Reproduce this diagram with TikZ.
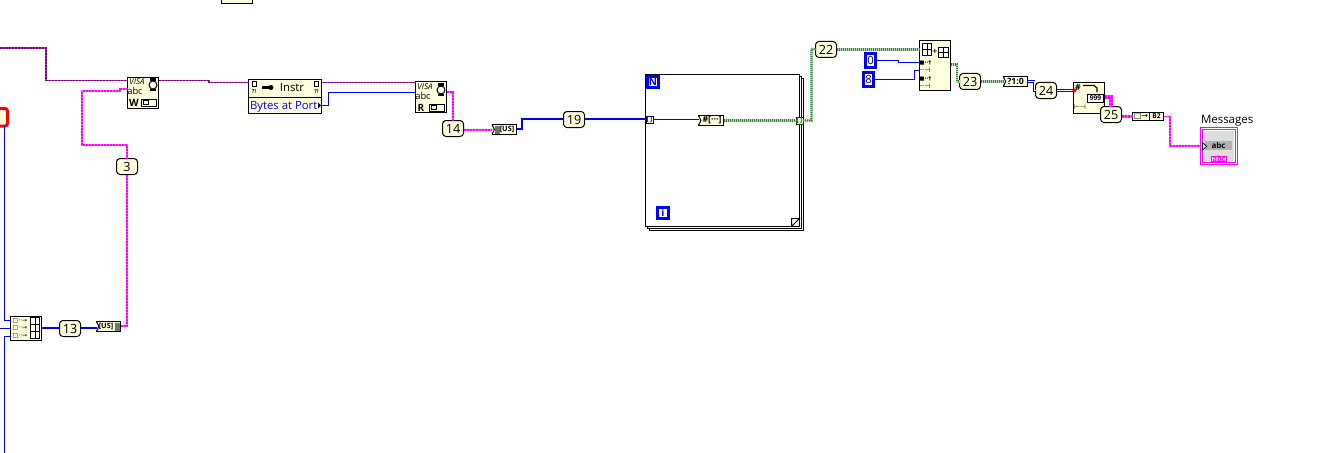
\documentclass[tikz,border=0pt]{standalone}
\usepackage{fontspec}
\setmainfont{Open Sans}
\newfontfamily\symf{DejaVu Sans}
\definecolor{cream}{HTML}{FFFFDD}
\definecolor{lvblue}{HTML}{0000FF}
\definecolor{lvpink}{HTML}{FF00FF}
\definecolor{lvpurple}{HTML}{800080}
\definecolor{lvgreen}{HTML}{006600}
\tikzset{
  sz/.style 2 args={minimum width=#1*0.75pt,minimum height=#2*0.75pt,inner sep=0pt,outer sep=0pt},
  block/.style={draw=black,fill=cream,line width=0.75pt,sharp corners},
  num/.style={draw=black,fill=cream,line width=0.75pt,rounded corners=2.6pt,sz={21}{16},font=\fontsize{9.5}{9.5}\selectfont},
  cst/.style={draw=lvblue,fill=cream,line width=2.1pt,font=\fontsize{8.5}{8.5}\selectfont,text=lvblue!45!black},
  iter/.style={cst,sz={11.5}{11.5},font=\fontsize{7.5}{7.5}\selectfont\bfseries,text=lvblue},
  conv/.style={draw=black,fill=cream,line width=0.75pt},
  tiny/.style={inner sep=0pt,outer sep=0pt,font=\fontsize{#1}{#1}\selectfont},
  tiny/.default=6,
  loopf/.style={draw=black,fill=white,line width=0.75pt,sz={154}{152}},
  grd/.style={draw=black,line width=0.5pt,fill=white},
  bluethin/.style={draw=lvblue,line width=0.75pt,sharp corners},
  bluethick/.style={draw=lvblue,line width=1.6pt},
  bluedouble/.style={draw=lvblue,line width=0.7pt,double=white,double distance=0.7pt},
  pinkw/.style={preaction={draw=lvpink!65,line width=1.4pt,solid},draw=lvpink,line width=1.4pt,dash pattern=on 1.5pt off 0.75pt},
  pinkthick/.style={preaction={draw=lvpink!60,line width=2.6pt,solid},draw=lvpink,line width=2.6pt,dash pattern=on 1.5pt off 0.75pt},
  purplew/.style={preaction={draw=lvpurple!75,line width=1.4pt,solid},draw=lvpurple,line width=1.4pt,dash pattern=on 1.5pt off 0.75pt},
  greenw/.style={preaction={draw=lvgreen!25,line width=1.7pt,solid},draw=lvgreen!80,line width=1.7pt,dash pattern=on 0.75pt off 0.75pt},
}
\begin{document}
\begin{tikzpicture}[x=0.75pt,y=-0.75pt]
\useasboundingbox (0,0) rectangle (1327,453);

% ---- loop structure
\node[loopf] (loopc) at (726.5,154.5) {};
\node[loopf] (loopb) at (724.5,152.5) {};
\node[loopf] (loop) at (722.5,150.5) {};
\node[iter] (nbox) at (653,82) {N};
\node[iter] (ibox) at (663,213) {i};
\draw[line width=0.75pt,fill=white] (791.5,226.5) -- (799.5,218.5) -- (791.5,218.5) -- cycle;

% ---- nodes
\node[block,sz={31}{5}] (top) at (236.5,1.5) {};
\node[draw=red,line width=2.25pt,fill=cream,rounded corners=2pt,sz={15}{17.7}] (redbox) at (0,117.2) {};
\node[block,sz={31}{31}] (vw) at (143,93) {};
\node[block,sz={73}{34}] (instr) at (285,96.5) {};
\draw[line width=0.75pt] (instr.west |- 0,97.5) -- (instr.east |- 0,97.5);
\node[block,sz={31}{31}] (vr) at (431,97) {};
\node[num] (n3) at (127,166.5) {3};
\node[num] (n14) at (453,128.5) {14};
\node[conv,sz={24}{10}] (us14) at (504,129.5) {};
\node[num] (n19) at (574,119.5) {19};
\node[conv,sz={7}{7}] (tl) at (649.5,119.5) {};
\node[conv,sz={7}{7},draw=lvgreen!60!black] (tr) at (799.5,120.5) {};
\node[conv,sz={25}{10}] (cnv) at (711,120.5) {};
\node[num] (n22) at (826,49.5) {22};
\node[cst,sz={9.4}{14.6}] (c0) at (870.5,60.5) {0};
\node[cst,sz={9.4}{14.6}] (c8) at (868.5,79.5) {8};
\node[block,sz={31}{50}] (sub) at (935,65.5) {};
\node[num] (n23) at (970,81.5) {23};
\node[conv,sz={24.5}{10},font=\fontsize{6.5}{6.5}\selectfont\bfseries] (sel) at (1015.5,81.5) {?1:0};
\node[num] (n24) at (1046,90.5) {24};
\node[block,sz={31}{31}] (build) at (1089,98) {};
\node[num] (n25) at (1111,114.5) {25};
\node[conv,sz={31}{8}] (strc) at (1148,116.5) {};
\node[draw=lvpink,line width=0.8pt,fill=white,sz={37}{37}] (msg) at (1219,146) {};
\node[block,sz={31}{24}] (arr) at (26,328) {};
\node[num] (n13) at (70,328.5) {13};
\node[conv,sz={24}{10}] (us13) at (108.5,326.5) {};
\node[tiny=8.6,anchor=west] (msglab) at (1201,120.5) {Messages};
\coordinate (west0) at (0,48);
\coordinate (westb) at (0,328.5);
\coordinate (botb) at (4.5,453);

% ---- notched converter ends
\foreach \n in {us14,cnv,sel,us13}{
  \fill[white] ([xshift=-0.6pt]\n.north west) -- ([xshift=1.8pt]\n.west) -- ([xshift=-0.6pt]\n.south west) -- cycle;
  \draw[line width=0.75pt] (\n.north west) -- ([xshift=1.8pt]\n.west) -- (\n.south west);
}

% ---- wires
\draw[purplew] (west0) -- (46,48) -- (46,80.5) -- (vw.west |- 0,80.5);
\draw[purplew] (vw.east |- 0,80.5) -- (209,80.5) -- (209,82.5) -- (instr.west |- 0,82.5);
\draw[purplew] (instr.east |- 0,82.5) -- (vr.west |- 0,82.5);
\draw[pinkw] (vw.west |- 0,89) -- (120,89) -- (120,91) -- (82,91) -- (82,145) -- (127,145) -- (n3.north);
\draw[pinkw] (n3.south) -- (127,326) -- (us13.east |- 0,326);
\draw[pinkw] (vr.east |- 0,92) -- (453,92) -- (n14.north);
\draw[pinkw] (n14.east |- 0,130) -- (us14.west |- 0,130);
\draw[bluethin] (instr.east |- 0,105.5) -- (328.5,105.5) -- (328.5,92.5) -- (vr.west |- 0,92.5);
\draw[bluethick] (us14.east |- 0,129) -- (522,129) -- (522,119) -- (n19.west |- 0,119);
\draw[bluethick] (n19.east |- 0,119) -- (tl.west |- 0,119);
\draw[bluethin] (tl.east) -- (cnv.west |- tl);
\draw[greenw] (cnv.east) -- (tr.west);
\draw[greenw] (tr.east) -- (811.5,120.5) -- (811.5,49) -- (n22.west);
\draw[greenw] (n22.east) -- (sub.west |- n22);
\draw[bluethin] (c0.east) -- (898.5,60.5) -- (898.5,62.5) -- (sub.west |- 0,62.5);
\draw[bluethin] (c8.east) -- (914.5,79.5) -- (914.5,70.5) -- (sub.west |- 0,70.5);
\draw[greenw] (sub.east |- 0,64.5) -- (957,64.5) -- (957,81.5) -- (n23.west);
\draw[greenw] (n23.east) -- (sel.west);
\draw[bluedouble] (sel.east) -- (1034,81.5) -- (1034,90.5) -- (n24.west);
\draw[bluedouble] (n24.east) -- (build.west |- n24);
\draw[pinkthick] (build.east |- 0,97) -- (1111,97) -- (n25.north);
\draw[pinkthick] (n25.east |- strc) -- (strc.west);
\draw[pinkw] (strc.east) -- (1170,116.5) -- (1170,146) -- (msg.west);
\draw[bluethin] (redbox.south -| 4.5,0) -- (4.5,320.5) -- (arr.west |- 0,320.5);
\draw[bluethin] (westb) -- (arr.west |- westb);
\draw[bluethin] (arr.west |- 0,336.5) -- (4.5,336.5) -- (botb);
\draw[bluethick] (arr.east) -- (n13.west |- arr);
\draw[bluethick] (n13.east |- arr) -- (us13.west |- arr);

% ---- VISA write
\node[tiny=6] (vwv) at (137,82) {\itshape VISA};
\node[tiny=7] (vwa) at (135,91) {abc};
\node[tiny=7.5] (vwl) at (134,102.5) {\bfseries W};
\node[draw=black,line width=0.75pt,sz={15}{7}] (vwp) at (148.5,102.5) {};
\node[draw=black,line width=0.5pt,fill=white,sz={5}{4}] (vwq) at (146,102.5) {};
\node[circle,draw=black,line width=0.75pt,fill=white,sz={8}{8}] (vwc) at (153,85) {};
\node[fill=black,sz={6}{3}] (vwd) at (153,79.5) {};
\node[fill=black,sz={6}{2}] (vwe) at (153,90.5) {};
% ---- Instr
\node[tiny=8.5] (ins) at (292,88) {Instr};
\node[tiny=8.5,text=lvblue,anchor=west] (bap) at (250,106.5) {Bytes at Port};
\node[draw=black,fill=white,line width=0.6pt,sz={4}{5}] (ic1) at (254,84) {};
\node[draw=black,fill=white,line width=0.6pt,sz={4}{5}] (ic2) at (316.5,84) {};
\node[tiny=4] (iq1) at (254,92) {\bfseries ?!};
\node[tiny=4] (iq2) at (316.5,92) {\bfseries ?!};
\node[fill=black,sz={9}{2.5}] (ic3) at (266,87.5) {};
\node[circle,fill=black,sz={5}{5}] (ic5) at (271,87.5) {};
\fill[black] (318,102.5) -- (321,105.5) -- (318,108.5) -- cycle;
% ---- VISA read
\node[tiny=6] (vrv) at (425,87) {\itshape VISA};
\node[tiny=7] (vra) at (423,96) {abc};
\node[tiny=7.5] (vrl) at (421,107.5) {\bfseries R};
\node[draw=black,line width=0.75pt,sz={15}{7}] (vrp) at (436.5,107.5) {};
\node[draw=black,line width=0.5pt,fill=white,sz={5}{4}] (vrq) at (434,107.5) {};
\node[circle,draw=black,line width=0.75pt,fill=white,sz={8}{8}] (vrc) at (441,90) {};
\node[fill=black,sz={6}{3}] (vrd) at (441,84.5) {};
\node[fill=black,sz={6}{2}] (vre) at (441,95) {};
% ---- converters
\node[tiny=5.5] (ust1) at (507,129.5) {\bfseries[US]};
\node[fill=black!55,sz={5}{8}] (ush1) at (497,129.5) {};
\node[tiny=6.5] (convt) at (712,120.3) {\bfseries\#[···]};
\node[tiny=5.5] (ust2) at (106,326.5) {\bfseries[US]};
\node[fill=black!55,sz={5}{8}] (ush2) at (117.5,326.5) {};
% ---- tunnels
\node[tiny=5,text=lvblue] (tlt) at (649.5,119.3) {\bfseries[\,]};
\node[tiny=5,text=lvgreen] (trt) at (799.5,120.3) {\bfseries[\,]};
% ---- array subset
\draw[grd] (922.5,43.5) rectangle (931.5,55.5);
\draw[line width=0.5pt] (927,43.5) -- (927,55.5) (922.5,49.5) -- (931.5,49.5);
\draw[grd] (938.5,47.5) rectangle (948.5,57.5);
\draw[line width=0.5pt] (943.5,47.5) -- (943.5,57.5) (938.5,52.5) -- (948.5,52.5);
\node[tiny=5] (splus) at (935,51) {\symf\bfseries +};
\node[tiny=4] (sc) at (925.5,63) {\symf\bfseries ■··†};
\node[tiny=5] (sd) at (924.5,70.5) {\symf ⊢⊣};
\node[tiny=4] (se) at (925.5,79) {\symf\bfseries ■··†};
\node[tiny=5] (sf) at (924.5,86.5) {\symf ⊢⊣};
% ---- build string
\node[tiny=6.5] (bt1) at (1078,87.5) {\bfseries\#};
\draw[line width=0.9pt] (1083,85.5) -- (1094,85.5) -- (1097,88) -- (1097,92);
\node[draw=black,fill=white,line width=0.6pt,sz={16}{8},tiny=5] (bt2) at (1095.5,98.5) {\bfseries 999};
\node[tiny=5] (bt3) at (1080,107.5) {\symf ⊢⊣};
\fill[red] (1074.3,90.5) circle (2);
% ---- string convert
\node[tiny=6] (sct1) at (1141,116.5) {\symf □→};
\node[draw=black,line width=0.75pt,sz={14}{8},tiny=5] (sct2) at (1156.5,116.5) {\bfseries B2};
% ---- control
\node[draw=lvpink,line width=0.8pt,fill=white,sz={33}{33}] (msgo) at (1219,146) {};
\node[fill=black!13,sz={30}{30}] (msgin) at (1219,145.5) {};
\node[fill=black!30,sz={26.5}{9.5},tiny=6] (msgt) at (1218.5,145.5) {\bfseries abc};
\node[draw=lvpink,fill=white,line width=0.8pt,sz={15}{5.5},tiny=5.5,text=lvpink] (msgb) at (1219,159) {\bfseries abc};
\filldraw[fill=white,draw=black,line width=0.6pt] (1202.5,142.7) -- (1206.7,146.3) -- (1202.5,150) -- cycle;
% ---- array icon
\draw[grd] (30.5,317.5) rectangle (39.5,338.5);
\draw[line width=0.5pt] (35,317.5) -- (35,338.5) (30.5,324.5) -- (39.5,324.5) (30.5,331.5) -- (39.5,331.5);
\node[tiny=4.5] (arr1) at (20,320.7) {\symf □··→};
\node[tiny=4.5] (arr2) at (20,328.2) {\symf □··→};
\node[tiny=4.5] (arr3) at (20,335.7) {\symf □··→};
\end{tikzpicture}
\end{document}
